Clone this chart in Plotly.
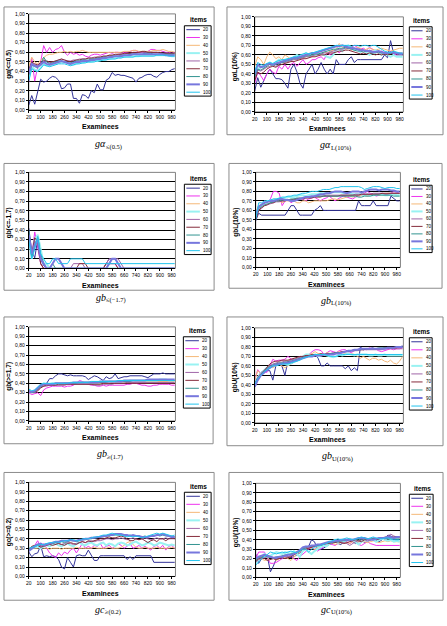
import plotly.graph_objects as go

W, H = 447, 626

# ---------------- data ----------------
examinees = list(range(20, 1001, 20))
item_counts = ["20", "30", "40", "50", "60", "70", "80", "90", "100"]
x_tick_vals = [20, 100, 180, 260, 340, 420, 500, 580, 660, 740, 820, 900, 980]
y_tick_vals = [0.0, 0.1, 0.2, 0.3, 0.4, 0.5, 0.6, 0.7, 0.8, 0.9, 1.0]
y_tick_text = ["0,00", "0,10", "0,20", "0,30", "0,40", "0,50", "0,60", "0,70", "0,80", "0,90", "1,00"]

# Panel 1: g alpha (<=0.5)
ga05_20 = [0.05,0.15,0.06,0.18,0.32,0.29,0.30,0.33,0.35,0.34, 0.31,0.22,0.23,0.27,0.27,0.12,0.12,0.07,0.16,0.15, 0.12,0.20,0.18,0.27,0.21,0.21,0.31,0.33,0.39,0.36, 0.37,0.36,0.36,0.35,0.34,0.33,0.29,0.33,0.34,0.36, 0.37,0.37,0.35,0.34,0.37,0.39,0.40,0.40,0.42,0.43]
ga05_30 = [0.29,0.54,0.30,0.45,0.50,0.67,0.60,0.65,0.60,0.63, 0.64,0.67,0.60,0.57,0.60,0.58,0.59,0.57,0.58,0.56, 0.55,0.57,0.58,0.58,0.57,0.58,0.59,0.60,0.59,0.60, 0.60,0.59,0.60,0.60,0.61,0.62,0.62,0.60,0.60,0.59, 0.61,0.63,0.63,0.62,0.62,0.61,0.60,0.60,0.59,0.60]
ga05_40 = [0.45,0.55,0.50,0.48,0.52,0.55,0.57,0.58,0.58,0.59, 0.60,0.60,0.61,0.60,0.61,0.60,0.61,0.61,0.62,0.61, 0.60,0.60,0.60,0.60,0.60,0.60,0.60,0.60,0.60,0.60, 0.60,0.60,0.61,0.61,0.61,0.62,0.62,0.61,0.61,0.61, 0.61,0.61,0.62,0.62,0.62,0.63,0.62,0.61,0.61,0.60]
ga05_50 = [0.33,0.45,0.42,0.41,0.44,0.48,0.46,0.46,0.47,0.48, 0.49,0.50,0.50,0.49,0.47,0.47,0.48,0.49,0.49,0.50, 0.50,0.50,0.51,0.51,0.52,0.52,0.53,0.53,0.54,0.54, 0.55,0.55,0.55,0.56,0.56,0.56,0.56,0.56,0.57,0.57, 0.57,0.57,0.57,0.57,0.57,0.57,0.57,0.57,0.56,0.56]
ga05_60 = [0.40,0.49,0.47,0.46,0.48,0.51,0.50,0.49,0.50,0.51, 0.52,0.53,0.52,0.51,0.51,0.52,0.52,0.53,0.53,0.53, 0.54,0.54,0.55,0.55,0.55,0.56,0.56,0.57,0.57,0.57, 0.58,0.58,0.58,0.59,0.59,0.59,0.59,0.60,0.60,0.60, 0.60,0.60,0.60,0.60,0.59,0.59,0.59,0.59,0.59,0.59]
ga05_70 = [0.42,0.50,0.48,0.47,0.49,0.52,0.51,0.50,0.50,0.51, 0.52,0.53,0.52,0.51,0.50,0.51,0.52,0.52,0.53,0.53, 0.54,0.54,0.54,0.55,0.55,0.56,0.56,0.57,0.57,0.58, 0.58,0.58,0.59,0.59,0.59,0.60,0.60,0.60,0.61,0.61, 0.60,0.60,0.60,0.60,0.60,0.59,0.59,0.59,0.59,0.59]
ga05_80 = [0.36,0.47,0.45,0.44,0.47,0.55,0.50,0.48,0.49,0.50, 0.51,0.51,0.50,0.49,0.49,0.50,0.51,0.51,0.52,0.52, 0.52,0.53,0.53,0.54,0.54,0.55,0.55,0.55,0.56,0.56, 0.56,0.57,0.57,0.57,0.58,0.58,0.58,0.58,0.58,0.59, 0.59,0.59,0.58,0.58,0.58,0.58,0.58,0.58,0.58,0.58]
ga05_90 = [0.38,0.48,0.46,0.45,0.47,0.50,0.48,0.47,0.48,0.49, 0.50,0.51,0.50,0.49,0.48,0.49,0.50,0.50,0.51,0.51, 0.51,0.52,0.52,0.53,0.53,0.54,0.54,0.55,0.55,0.56, 0.56,0.56,0.57,0.57,0.57,0.58,0.58,0.58,0.58,0.58, 0.58,0.58,0.58,0.58,0.58,0.58,0.57,0.57,0.57,0.57]
ga05_100 = [0.30,0.43,0.41,0.40,0.43,0.47,0.46,0.45,0.46,0.47, 0.48,0.48,0.48,0.47,0.46,0.47,0.48,0.48,0.49,0.49, 0.50,0.50,0.50,0.51,0.51,0.52,0.52,0.53,0.53,0.53, 0.54,0.54,0.55,0.55,0.55,0.55,0.56,0.56,0.56,0.56, 0.56,0.56,0.56,0.57,0.57,0.57,0.57,0.56,0.56,0.56]

# Panel 2: g alpha L(10%)
gaL_20 = [0.22,0.36,0.26,0.33,0.40,0.45,0.40,0.35,0.35,0.34, 0.30,0.25,0.45,0.50,0.42,0.30,0.25,0.40,0.45,0.50, 0.40,0.45,0.52,0.45,0.40,0.45,0.40,0.55,0.50,0.50, 0.50,0.55,0.58,0.52,0.55,0.55,0.55,0.55,0.55,0.55, 0.55,0.55,0.55,0.60,0.57,0.75,0.62,0.60,0.60,0.60]
gaL_30 = [0.30,0.42,0.38,0.33,0.40,0.45,0.42,0.40,0.48,0.45, 0.50,0.45,0.50,0.52,0.48,0.52,0.55,0.50,0.52,0.55, 0.55,0.57,0.58,0.55,0.62,0.60,0.62,0.65,0.62,0.66, 0.68,0.70,0.68,0.70,0.68,0.66,0.67,0.65,0.68,0.66, 0.64,0.62,0.64,0.62,0.60,0.63,0.61,0.60,0.62,0.61]
gaL_40 = [0.48,0.58,0.55,0.50,0.58,0.63,0.60,0.56,0.58,0.55, 0.60,0.58,0.55,0.58,0.57,0.56,0.57,0.58,0.60,0.58, 0.60,0.62,0.61,0.63,0.62,0.64,0.65,0.66,0.72,0.68, 0.66,0.67,0.65,0.66,0.68,0.67,0.65,0.66,0.67,0.66, 0.65,0.66,0.67,0.66,0.65,0.64,0.65,0.66,0.67,0.67]
gaL_50 = [0.38,0.45,0.48,0.47,0.50,0.52,0.50,0.52,0.55,0.53, 0.55,0.56,0.55,0.58,0.60,0.58,0.60,0.62,0.60,0.62, 0.60,0.62,0.61,0.60,0.58,0.57,0.60,0.65,0.66,0.64, 0.68,0.70,0.68,0.65,0.66,0.63,0.65,0.62,0.60,0.62, 0.65,0.63,0.60,0.62,0.60,0.58,0.60,0.58,0.58,0.58]
gaL_60 = [0.35,0.44,0.43,0.45,0.47,0.48,0.50,0.48,0.50,0.52, 0.52,0.53,0.54,0.55,0.55,0.56,0.57,0.58,0.58,0.59, 0.60,0.60,0.61,0.62,0.62,0.63,0.64,0.65,0.66,0.66, 0.67,0.67,0.68,0.67,0.66,0.66,0.65,0.64,0.65,0.64, 0.63,0.63,0.62,0.63,0.62,0.62,0.63,0.62,0.62,0.62]
gaL_70 = [0.33,0.42,0.40,0.42,0.45,0.47,0.48,0.47,0.49,0.50, 0.51,0.52,0.53,0.53,0.54,0.55,0.56,0.56,0.57,0.58, 0.58,0.59,0.60,0.60,0.61,0.62,0.62,0.63,0.64,0.64, 0.65,0.65,0.64,0.63,0.62,0.61,0.62,0.61,0.62,0.61, 0.60,0.61,0.60,0.61,0.60,0.61,0.62,0.61,0.61,0.60]
gaL_80 = [0.37,0.45,0.44,0.46,0.48,0.50,0.49,0.50,0.51,0.52, 0.53,0.54,0.55,0.56,0.56,0.57,0.58,0.59,0.59,0.60, 0.61,0.61,0.62,0.63,0.64,0.65,0.66,0.66,0.67,0.67, 0.68,0.67,0.66,0.65,0.64,0.64,0.63,0.64,0.63,0.62, 0.62,0.63,0.62,0.62,0.61,0.62,0.63,0.62,0.61,0.61]
gaL_90 = [0.40,0.50,0.47,0.48,0.50,0.51,0.50,0.51,0.52,0.53, 0.54,0.55,0.56,0.57,0.57,0.58,0.59,0.60,0.61,0.62, 0.62,0.63,0.64,0.65,0.66,0.67,0.68,0.69,0.69,0.70, 0.69,0.68,0.67,0.67,0.66,0.65,0.65,0.64,0.64,0.63, 0.63,0.64,0.63,0.62,0.62,0.63,0.62,0.62,0.61,0.61]
gaL_100 = [0.42,0.52,0.50,0.49,0.51,0.52,0.51,0.53,0.54,0.55, 0.55,0.56,0.57,0.58,0.58,0.60,0.61,0.62,0.61,0.62, 0.63,0.64,0.65,0.66,0.67,0.68,0.69,0.70,0.70,0.70, 0.70,0.70,0.69,0.70,0.70,0.69,0.70,0.70,0.69,0.70, 0.70,0.68,0.66,0.64,0.63,0.62,0.64,0.63,0.62,0.62]

# Panel 3: g b (<=-1.7)
gbS_20 = [0.42,0.18,0.11,0.30,0.10,0.03,0.00,0.00,0.00,0.00, 0.00,0.00,0.00,0.00,0.00,0.00,0.00,0.00,0.00,0.00, 0.00,0.00,0.00,0.00,0.00,0.00,0.05,0.10,0.10,0.10, 0.05,0.00,0.00,0.00,0.00,0.00,0.00,0.00,0.00,0.00, 0.00,0.00,0.00,0.00,0.00,0.00,0.00,0.00,0.00,0.00]
gbS_30 = [0.32,0.12,0.38,0.20,0.05,0.00,0.00,0.00,0.00,0.00, 0.00,0.00,0.00,0.00,0.00,0.00,0.00,0.00,0.00,0.00, 0.00,0.00,0.00,0.00,0.00,0.00,0.00,0.05,0.05,0.05, 0.00,0.00,0.00,0.00,0.00,0.00,0.00,0.00,0.00,0.00, 0.00,0.00,0.00,0.00,0.00,0.00,0.00,0.00,0.00,0.00]
gbS_40 = [0.30,0.15,0.25,0.32,0.05,0.00,0.00,0.00,0.00,0.00, 0.00,0.00,0.00,0.00,0.00,0.00,0.00,0.00,0.00,0.00, 0.00,0.00,0.00,0.00,0.00,0.00,0.00,0.00,0.00,0.00, 0.00,0.00,0.00,0.00,0.00,0.00,0.00,0.00,0.00,0.00, 0.00,0.00,0.00,0.00,0.00,0.00,0.00,0.00,0.00,0.00]
gbS_50 = [0.33,0.10,0.30,0.35,0.20,0.05,0.05,0.00,0.00,0.00, 0.00,0.00,0.00,0.00,0.00,0.00,0.00,0.00,0.00,0.00, 0.00,0.00,0.00,0.00,0.00,0.00,0.00,0.00,0.00,0.00, 0.00,0.00,0.00,0.00,0.00,0.00,0.00,0.00,0.00,0.00, 0.00,0.00,0.00,0.00,0.00,0.00,0.00,0.00,0.00,0.00]
gbS_60 = [0.38,0.12,0.28,0.25,0.05,0.00,0.00,0.00,0.00,0.00, 0.00,0.00,0.00,0.00,0.00,0.05,0.05,0.05,0.05,0.00, 0.00,0.00,0.00,0.00,0.00,0.00,0.05,0.10,0.10,0.10, 0.10,0.05,0.00,0.00,0.00,0.00,0.00,0.00,0.00,0.00, 0.00,0.00,0.00,0.00,0.00,0.00,0.00,0.00,0.00,0.00]
gbS_70 = [0.36,0.15,0.32,0.28,0.05,0.00,0.00,0.00,0.00,0.00, 0.00,0.00,0.00,0.00,0.00,0.00,0.00,0.05,0.05,0.05, 0.00,0.00,0.00,0.00,0.00,0.00,0.05,0.05,0.05,0.05, 0.00,0.00,0.00,0.00,0.00,0.00,0.00,0.00,0.00,0.00, 0.00,0.00,0.00,0.00,0.00,0.00,0.00,0.00,0.00,0.00]
gbS_80 = [0.40,0.12,0.22,0.33,0.15,0.05,0.00,0.00,0.05,0.00, 0.00,0.00,0.00,0.00,0.00,0.00,0.00,0.00,0.00,0.00, 0.00,0.00,0.00,0.00,0.00,0.00,0.00,0.00,0.00,0.00, 0.00,0.00,0.00,0.00,0.00,0.00,0.00,0.00,0.00,0.00, 0.00,0.00,0.00,0.00,0.00,0.00,0.00,0.00,0.00,0.00]
gbS_90 = [0.35,0.15,0.25,0.30,0.10,0.05,0.00,0.00,0.05,0.10, 0.10,0.05,0.00,0.00,0.00,0.00,0.00,0.00,0.00,0.00, 0.00,0.00,0.00,0.00,0.00,0.00,0.00,0.05,0.10,0.10, 0.05,0.00,0.00,0.00,0.00,0.00,0.00,0.00,0.00,0.00, 0.00,0.00,0.00,0.00,0.00,0.00,0.00,0.00,0.00,0.00]
gbS_100 = [0.30,0.10,0.20,0.33,0.15,0.10,0.05,0.05,0.10,0.10, 0.05,0.05,0.05,0.05,0.10,0.10,0.10,0.10,0.10,0.05, 0.05,0.05,0.05,0.05,0.05,0.05,0.05,0.05,0.05,0.05, 0.05,0.05,0.05,0.05,0.05,0.05,0.05,0.05,0.05,0.05, 0.05,0.05,0.05,0.05,0.05,0.05,0.05,0.05,0.05,0.05]

# Panel 4: g b L(10%)
gbL_20 = [0.49,0.57,0.55,0.55,0.55,0.55,0.55,0.55,0.55,0.55, 0.55,0.60,0.65,0.65,0.60,0.55,0.55,0.55,0.55,0.55, 0.60,0.62,0.65,0.60,0.60,0.60,0.60,0.60,0.60,0.60, 0.60,0.60,0.60,0.60,0.60,0.70,0.65,0.65,0.65,0.65, 0.70,0.65,0.65,0.65,0.65,0.65,0.75,0.72,0.70,0.70]
gbL_30 = [0.55,0.63,0.66,0.70,0.68,0.72,0.80,0.80,0.78,0.65, 0.70,0.72,0.68,0.70,0.72,0.73,0.72,0.70,0.72,0.73, 0.74,0.72,0.70,0.72,0.73,0.75,0.72,0.70,0.72,0.74, 0.75,0.74,0.73,0.72,0.74,0.75,0.76,0.78,0.80,0.78, 0.77,0.75,0.76,0.78,0.77,0.76,0.78,0.80,0.79,0.78]
gbL_40 = [0.58,0.65,0.66,0.68,0.70,0.70,0.72,0.72,0.70,0.68, 0.70,0.70,0.70,0.70,0.68,0.68,0.70,0.70,0.68,0.69, 0.70,0.70,0.70,0.70,0.70,0.71,0.72,0.72,0.71,0.72, 0.73,0.74,0.75,0.74,0.75,0.75,0.76,0.76,0.75,0.76, 0.76,0.77,0.76,0.77,0.77,0.78,0.78,0.78,0.78,0.78]
gbL_50 = [0.55,0.62,0.66,0.68,0.70,0.70,0.71,0.72,0.72,0.73, 0.73,0.74,0.74,0.74,0.75,0.76,0.76,0.75,0.76,0.77, 0.77,0.77,0.78,0.78,0.78,0.78,0.79,0.79,0.79,0.79, 0.78,0.78,0.78,0.77,0.77,0.77,0.77,0.76,0.77,0.76, 0.76,0.77,0.77,0.77,0.76,0.76,0.77,0.77,0.76,0.76]
gbL_60 = [0.52,0.60,0.62,0.65,0.66,0.67,0.68,0.69,0.69,0.70, 0.70,0.71,0.71,0.72,0.72,0.72,0.73,0.73,0.74,0.74, 0.74,0.75,0.75,0.75,0.76,0.76,0.76,0.76,0.76,0.76, 0.76,0.76,0.76,0.76,0.77,0.77,0.77,0.77,0.77,0.77, 0.78,0.78,0.78,0.78,0.77,0.77,0.78,0.78,0.78,0.78]
gbL_70 = [0.50,0.60,0.63,0.65,0.66,0.68,0.68,0.70,0.70,0.70, 0.70,0.71,0.71,0.71,0.72,0.72,0.72,0.73,0.73,0.73, 0.74,0.74,0.74,0.75,0.75,0.75,0.75,0.75,0.75,0.76, 0.76,0.76,0.76,0.76,0.76,0.76,0.77,0.77,0.77,0.77, 0.77,0.77,0.77,0.78,0.78,0.78,0.78,0.78,0.78,0.78]
gbL_80 = [0.53,0.62,0.64,0.66,0.67,0.68,0.69,0.70,0.70,0.71, 0.71,0.71,0.72,0.72,0.73,0.73,0.73,0.74,0.74,0.74, 0.75,0.75,0.75,0.75,0.75,0.75,0.75,0.75,0.75,0.75, 0.75,0.75,0.75,0.75,0.75,0.74,0.74,0.75,0.75,0.75, 0.76,0.76,0.76,0.76,0.76,0.76,0.76,0.75,0.75,0.75]
gbL_90 = [0.55,0.64,0.66,0.68,0.69,0.70,0.70,0.71,0.72,0.72, 0.71,0.71,0.70,0.70,0.71,0.72,0.73,0.74,0.74,0.75, 0.75,0.76,0.77,0.77,0.78,0.78,0.79,0.80,0.80,0.80, 0.79,0.78,0.79,0.80,0.80,0.80,0.79,0.80,0.81,0.82, 0.82,0.82,0.81,0.82,0.82,0.82,0.81,0.81,0.80,0.80]
gbL_100 = [0.50,0.68,0.68,0.70,0.70,0.71,0.72,0.72,0.73,0.74, 0.74,0.75,0.75,0.76,0.76,0.77,0.78,0.78,0.79,0.80, 0.80,0.80,0.81,0.82,0.82,0.82,0.83,0.84,0.84,0.85, 0.85,0.85,0.85,0.85,0.85,0.85,0.84,0.82,0.83,0.84, 0.85,0.85,0.85,0.84,0.83,0.84,0.84,0.84,0.83,0.83]

# Panel 5: g b (>=1.7)
gbG_20 = [0.33,0.31,0.32,0.35,0.37,0.37,0.40,0.45,0.45,0.48, 0.50,0.50,0.49,0.48,0.49,0.48,0.48,0.48,0.48,0.47, 0.44,0.46,0.48,0.47,0.45,0.43,0.47,0.45,0.46,0.50, 0.45,0.46,0.47,0.47,0.48,0.48,0.48,0.48,0.48,0.47, 0.46,0.48,0.50,0.50,0.50,0.51,0.50,0.50,0.50,0.50]
gbG_30 = [0.30,0.28,0.29,0.30,0.27,0.33,0.35,0.36,0.37,0.37, 0.37,0.37,0.36,0.37,0.37,0.38,0.40,0.43,0.42,0.40, 0.39,0.38,0.38,0.37,0.37,0.38,0.37,0.38,0.38,0.38, 0.38,0.38,0.38,0.39,0.39,0.40,0.40,0.39,0.38,0.38, 0.37,0.37,0.38,0.38,0.39,0.39,0.39,0.39,0.38,0.38]
gbG_40 = [0.31,0.30,0.31,0.33,0.36,0.38,0.38,0.39,0.39,0.39, 0.38,0.38,0.38,0.39,0.39,0.39,0.40,0.40,0.40,0.40, 0.40,0.40,0.40,0.40,0.40,0.40,0.40,0.40,0.41,0.41, 0.41,0.41,0.41,0.41,0.41,0.41,0.42,0.42,0.42,0.42, 0.42,0.42,0.42,0.42,0.42,0.42,0.42,0.42,0.42,0.42]
gbG_50 = [0.33,0.31,0.31,0.34,0.38,0.40,0.39,0.39,0.40,0.39, 0.39,0.39,0.40,0.40,0.40,0.40,0.40,0.41,0.41,0.41, 0.41,0.41,0.41,0.41,0.41,0.42,0.42,0.42,0.42,0.42, 0.42,0.42,0.42,0.42,0.43,0.43,0.43,0.43,0.43,0.43, 0.43,0.43,0.43,0.43,0.44,0.44,0.44,0.43,0.43,0.43]
gbG_60 = [0.32,0.30,0.30,0.33,0.36,0.37,0.37,0.38,0.38,0.38, 0.38,0.38,0.38,0.39,0.39,0.39,0.39,0.39,0.39,0.39, 0.39,0.39,0.38,0.38,0.38,0.39,0.39,0.39,0.39,0.40, 0.40,0.40,0.40,0.41,0.41,0.41,0.41,0.41,0.41,0.41, 0.41,0.41,0.41,0.41,0.41,0.41,0.41,0.41,0.41,0.41]
gbG_70 = [0.32,0.31,0.31,0.32,0.35,0.37,0.38,0.38,0.38,0.38, 0.39,0.39,0.39,0.39,0.39,0.39,0.39,0.39,0.39,0.39, 0.39,0.39,0.39,0.39,0.39,0.40,0.40,0.40,0.40,0.40, 0.40,0.40,0.40,0.40,0.40,0.40,0.40,0.40,0.40,0.40, 0.40,0.40,0.40,0.40,0.40,0.40,0.40,0.40,0.40,0.40]
gbG_80 = [0.31,0.30,0.31,0.34,0.37,0.39,0.39,0.39,0.39,0.40, 0.40,0.40,0.40,0.40,0.40,0.40,0.40,0.41,0.41,0.41, 0.41,0.41,0.41,0.41,0.41,0.41,0.41,0.42,0.42,0.42, 0.42,0.42,0.42,0.42,0.42,0.43,0.43,0.43,0.43,0.43, 0.43,0.43,0.43,0.43,0.43,0.43,0.43,0.43,0.43,0.43]
gbG_90 = [0.31,0.31,0.32,0.35,0.38,0.39,0.39,0.39,0.39,0.40, 0.40,0.40,0.40,0.40,0.40,0.41,0.41,0.41,0.41,0.41, 0.41,0.41,0.41,0.41,0.42,0.42,0.42,0.42,0.42,0.42, 0.42,0.42,0.43,0.43,0.43,0.43,0.43,0.43,0.43,0.43, 0.44,0.44,0.44,0.44,0.44,0.44,0.44,0.44,0.44,0.44]
gbG_100 = [0.34,0.32,0.33,0.36,0.39,0.40,0.40,0.40,0.40,0.40, 0.40,0.40,0.40,0.40,0.41,0.41,0.41,0.41,0.41,0.41, 0.41,0.42,0.42,0.42,0.42,0.42,0.42,0.42,0.42,0.42, 0.43,0.43,0.43,0.43,0.43,0.43,0.43,0.43,0.43,0.43, 0.43,0.43,0.43,0.43,0.43,0.43,0.43,0.43,0.43,0.43]

# Panel 6: g b U(10%)
gbU_20 = [0.39,0.48,0.53,0.55,0.55,0.55,0.45,0.60,0.62,0.60, 0.50,0.65,0.62,0.64,0.65,0.68,0.70,0.70,0.70,0.70, 0.72,0.68,0.60,0.60,0.63,0.60,0.60,0.60,0.60,0.60, 0.57,0.60,0.55,0.58,0.55,0.80,0.77,0.78,0.78,0.79, 0.78,0.78,0.78,0.78,0.78,0.79,0.79,0.79,0.80,0.81]
gbU_30 = [0.45,0.56,0.52,0.55,0.53,0.60,0.67,0.65,0.66,0.66, 0.67,0.70,0.67,0.65,0.66,0.68,0.70,0.70,0.72,0.75, 0.77,0.77,0.76,0.72,0.74,0.76,0.75,0.74,0.76,0.77, 0.77,0.75,0.74,0.76,0.77,0.78,0.78,0.77,0.79,0.78, 0.78,0.76,0.75,0.76,0.77,0.78,0.77,0.78,0.78,0.79]
gbU_40 = [0.45,0.55,0.52,0.55,0.58,0.60,0.58,0.60,0.62,0.60, 0.58,0.60,0.62,0.65,0.66,0.68,0.70,0.70,0.72,0.73, 0.75,0.73,0.72,0.72,0.74,0.73,0.72,0.74,0.75,0.74, 0.73,0.72,0.73,0.72,0.70,0.68,0.70,0.68,0.66,0.68, 0.68,0.66,0.67,0.65,0.64,0.66,0.63,0.62,0.65,0.70]
gbU_50 = [0.40,0.48,0.52,0.55,0.58,0.58,0.60,0.62,0.62,0.63, 0.62,0.61,0.63,0.64,0.66,0.68,0.70,0.72,0.72,0.71, 0.72,0.70,0.71,0.72,0.71,0.70,0.69,0.70,0.72,0.71, 0.72,0.73,0.72,0.71,0.72,0.72,0.72,0.72,0.71,0.71, 0.72,0.71,0.71,0.72,0.71,0.71,0.71,0.71,0.71,0.71]
gbU_60 = [0.42,0.48,0.52,0.55,0.57,0.60,0.62,0.63,0.64,0.64, 0.65,0.65,0.66,0.67,0.68,0.69,0.70,0.70,0.71,0.71, 0.72,0.72,0.72,0.72,0.73,0.73,0.74,0.74,0.74,0.75, 0.75,0.75,0.76,0.76,0.76,0.77,0.77,0.77,0.77,0.77, 0.77,0.77,0.77,0.78,0.78,0.78,0.78,0.78,0.78,0.78]
gbU_70 = [0.40,0.47,0.51,0.55,0.58,0.62,0.64,0.65,0.65,0.66, 0.66,0.66,0.67,0.68,0.69,0.70,0.70,0.71,0.71,0.72, 0.72,0.72,0.73,0.72,0.73,0.73,0.73,0.74,0.74,0.75, 0.75,0.76,0.76,0.77,0.77,0.77,0.77,0.78,0.78,0.78, 0.78,0.78,0.78,0.79,0.79,0.79,0.79,0.79,0.80,0.80]
gbU_80 = [0.38,0.46,0.50,0.54,0.57,0.60,0.61,0.62,0.63,0.63, 0.64,0.64,0.65,0.66,0.67,0.68,0.69,0.70,0.70,0.71, 0.71,0.71,0.72,0.72,0.72,0.73,0.73,0.74,0.74,0.74, 0.75,0.75,0.76,0.76,0.77,0.77,0.78,0.78,0.78,0.78, 0.78,0.79,0.79,0.79,0.79,0.79,0.79,0.80,0.80,0.80]
gbU_90 = [0.38,0.45,0.50,0.53,0.56,0.58,0.60,0.61,0.62,0.62, 0.63,0.63,0.64,0.65,0.66,0.67,0.68,0.69,0.70,0.70, 0.71,0.71,0.71,0.72,0.72,0.72,0.72,0.73,0.73,0.74, 0.75,0.76,0.76,0.77,0.77,0.78,0.78,0.78,0.78,0.78, 0.78,0.78,0.78,0.78,0.79,0.79,0.79,0.80,0.80,0.80]
gbU_100 = [0.41,0.47,0.50,0.54,0.56,0.58,0.60,0.60,0.61,0.62, 0.62,0.62,0.63,0.64,0.65,0.66,0.68,0.69,0.70,0.71, 0.72,0.72,0.72,0.72,0.71,0.70,0.70,0.70,0.71,0.72, 0.72,0.72,0.72,0.72,0.72,0.72,0.72,0.72,0.72,0.72, 0.72,0.72,0.72,0.72,0.72,0.72,0.72,0.72,0.72,0.72]

# Panel 7: g c (>=0.2)
gcG_20 = [0.26,0.21,0.24,0.25,0.33,0.21,0.22,0.21,0.22,0.21, 0.18,0.10,0.08,0.20,0.15,0.10,0.22,0.23,0.22,0.22, 0.28,0.22,0.17,0.17,0.22,0.22,0.22,0.22,0.22,0.22, 0.22,0.22,0.22,0.18,0.21,0.18,0.22,0.22,0.22,0.22, 0.22,0.22,0.15,0.15,0.15,0.15,0.15,0.15,0.15,0.15]
gcG_30 = [0.28,0.30,0.33,0.38,0.30,0.35,0.30,0.25,0.22,0.20, 0.25,0.22,0.26,0.24,0.28,0.30,0.25,0.30,0.35,0.30, 0.32,0.30,0.33,0.32,0.35,0.30,0.32,0.33,0.30,0.32, 0.35,0.33,0.30,0.32,0.35,0.30,0.31,0.33,0.30,0.32, 0.30,0.28,0.32,0.33,0.30,0.33,0.28,0.32,0.33,0.30]
gcG_40 = [0.30,0.31,0.30,0.30,0.31,0.30,0.30,0.29,0.30,0.30, 0.30,0.29,0.30,0.30,0.30,0.30,0.31,0.30,0.30,0.30, 0.30,0.30,0.31,0.30,0.30,0.30,0.30,0.31,0.30,0.30, 0.30,0.31,0.33,0.36,0.37,0.34,0.31,0.30,0.30,0.31, 0.30,0.30,0.30,0.31,0.30,0.30,0.30,0.30,0.31,0.30]
gcG_50 = [0.28,0.30,0.31,0.32,0.30,0.32,0.33,0.32,0.34,0.35, 0.33,0.32,0.34,0.35,0.33,0.32,0.35,0.36,0.34,0.33, 0.35,0.36,0.34,0.33,0.35,0.36,0.33,0.35,0.34,0.32, 0.35,0.36,0.35,0.33,0.34,0.36,0.37,0.35,0.33,0.34, 0.36,0.35,0.33,0.34,0.36,0.35,0.34,0.33,0.34,0.33]
gcG_60 = [0.29,0.31,0.33,0.34,0.33,0.34,0.35,0.34,0.35,0.36, 0.35,0.34,0.35,0.36,0.35,0.34,0.35,0.36,0.37,0.36, 0.37,0.38,0.37,0.38,0.38,0.39,0.40,0.40,0.39,0.40, 0.40,0.41,0.40,0.39,0.40,0.41,0.40,0.39,0.40,0.41, 0.40,0.39,0.40,0.41,0.40,0.40,0.41,0.40,0.40,0.40]
gcG_70 = [0.29,0.32,0.33,0.33,0.31,0.32,0.33,0.34,0.33,0.34, 0.35,0.34,0.33,0.35,0.36,0.35,0.34,0.36,0.37,0.36, 0.38,0.37,0.38,0.39,0.40,0.40,0.41,0.42,0.41,0.41, 0.42,0.43,0.42,0.40,0.38,0.38,0.40,0.39,0.40,0.38, 0.36,0.38,0.39,0.37,0.40,0.40,0.38,0.40,0.41,0.40]
gcG_80 = [0.28,0.30,0.32,0.33,0.34,0.33,0.34,0.35,0.35,0.36, 0.36,0.37,0.36,0.37,0.38,0.38,0.37,0.38,0.39,0.39, 0.40,0.40,0.41,0.41,0.42,0.42,0.43,0.43,0.44,0.44, 0.44,0.44,0.43,0.43,0.44,0.43,0.43,0.43,0.42,0.43, 0.42,0.43,0.43,0.44,0.43,0.44,0.43,0.43,0.43,0.42]
gcG_90 = [0.27,0.30,0.32,0.34,0.35,0.33,0.34,0.35,0.36,0.37, 0.37,0.38,0.38,0.38,0.39,0.38,0.38,0.39,0.39,0.40, 0.40,0.41,0.41,0.42,0.42,0.43,0.43,0.44,0.44,0.45, 0.45,0.45,0.44,0.44,0.43,0.44,0.43,0.43,0.42,0.42, 0.42,0.43,0.43,0.44,0.44,0.45,0.44,0.43,0.42,0.42]
gcG_100 = [0.30,0.31,0.32,0.33,0.34,0.34,0.35,0.36,0.36,0.37, 0.36,0.37,0.38,0.38,0.39,0.39,0.38,0.38,0.40,0.40, 0.40,0.41,0.42,0.42,0.43,0.44,0.44,0.45,0.46,0.45, 0.44,0.44,0.43,0.42,0.43,0.42,0.43,0.42,0.41,0.42, 0.43,0.44,0.45,0.46,0.45,0.46,0.45,0.44,0.43,0.44]

# Panel 8: g c U(10%)
gcU_20 = [0.25,0.15,0.20,0.25,0.22,0.06,0.12,0.20,0.22,0.20, 0.21,0.22,0.21,0.22,0.24,0.26,0.30,0.31,0.33,0.40, 0.38,0.30,0.30,0.31,0.33,0.35,0.36,0.38,0.36,0.35, 0.38,0.40,0.40,0.38,0.36,0.38,0.40,0.37,0.38,0.40, 0.42,0.40,0.38,0.40,0.42,0.45,0.44,0.42,0.43,0.43]
gcU_30 = [0.20,0.27,0.27,0.27,0.20,0.15,0.15,0.16,0.18,0.20, 0.22,0.25,0.23,0.20,0.18,0.22,0.25,0.28,0.30,0.32, 0.30,0.28,0.30,0.32,0.35,0.36,0.35,0.34,0.36,0.38, 0.40,0.38,0.36,0.38,0.39,0.35,0.34,0.36,0.38,0.36, 0.35,0.34,0.34,0.34,0.34,0.34,0.34,0.34,0.34,0.34]
gcU_40 = [0.18,0.22,0.20,0.18,0.19,0.22,0.20,0.18,0.20,0.22, 0.21,0.20,0.18,0.22,0.25,0.27,0.30,0.30,0.32,0.31, 0.30,0.32,0.33,0.35,0.34,0.36,0.37,0.35,0.36,0.37, 0.38,0.37,0.36,0.38,0.37,0.38,0.39,0.38,0.37,0.38, 0.39,0.38,0.37,0.38,0.39,0.38,0.39,0.38,0.38,0.38]
gcU_50 = [0.15,0.20,0.22,0.25,0.22,0.23,0.25,0.27,0.26,0.25, 0.27,0.26,0.25,0.28,0.25,0.22,0.28,0.30,0.27,0.25, 0.28,0.30,0.32,0.34,0.33,0.36,0.38,0.40,0.37,0.39, 0.38,0.40,0.41,0.40,0.37,0.35,0.38,0.40,0.39,0.41, 0.40,0.38,0.40,0.41,0.40,0.39,0.40,0.38,0.39,0.38]
gcU_60 = [0.16,0.19,0.20,0.21,0.22,0.22,0.21,0.20,0.21,0.22, 0.23,0.22,0.23,0.24,0.26,0.28,0.30,0.31,0.32,0.33, 0.33,0.34,0.35,0.35,0.36,0.37,0.37,0.38,0.38,0.38, 0.37,0.36,0.34,0.36,0.38,0.39,0.40,0.40,0.39,0.40, 0.41,0.40,0.41,0.42,0.43,0.44,0.46,0.44,0.43,0.42]
gcU_70 = [0.17,0.20,0.21,0.20,0.18,0.19,0.20,0.19,0.20,0.21, 0.20,0.21,0.22,0.24,0.26,0.28,0.30,0.30,0.31,0.32, 0.33,0.34,0.34,0.35,0.36,0.36,0.37,0.37,0.38,0.37, 0.36,0.37,0.38,0.39,0.40,0.39,0.38,0.40,0.41,0.40, 0.41,0.40,0.41,0.42,0.41,0.42,0.43,0.43,0.43,0.43]
gcU_80 = [0.18,0.21,0.22,0.23,0.22,0.21,0.21,0.22,0.22,0.23, 0.24,0.24,0.25,0.26,0.27,0.29,0.31,0.32,0.33,0.33, 0.34,0.34,0.35,0.36,0.36,0.37,0.37,0.38,0.38,0.39, 0.39,0.39,0.40,0.40,0.40,0.40,0.41,0.41,0.41,0.41, 0.41,0.41,0.42,0.42,0.42,0.41,0.41,0.41,0.41,0.41]
gcU_90 = [0.20,0.22,0.23,0.24,0.23,0.22,0.21,0.21,0.22,0.22, 0.23,0.24,0.24,0.25,0.27,0.29,0.32,0.33,0.33,0.34, 0.34,0.35,0.35,0.36,0.37,0.38,0.38,0.39,0.39,0.40, 0.40,0.40,0.40,0.40,0.41,0.42,0.42,0.42,0.41,0.40, 0.40,0.41,0.42,0.42,0.42,0.43,0.43,0.42,0.43,0.43]
gcU_100 = [0.13,0.17,0.20,0.22,0.25,0.27,0.26,0.25,0.26,0.27, 0.26,0.27,0.28,0.27,0.26,0.28,0.30,0.30,0.27,0.30, 0.32,0.33,0.34,0.35,0.36,0.38,0.39,0.40,0.41,0.40, 0.41,0.42,0.41,0.40,0.41,0.42,0.43,0.42,0.41,0.42, 0.43,0.42,0.41,0.41,0.42,0.42,0.41,0.40,0.40,0.40]

# ---------------- styling ----------------
series_colors = ["#333399", "#ee33ee", "#f5b878", "#99f2f2", "#a066a8", "#862c3c", "#339490", "#7777dd", "#22c4ee"]
series_widths = [1, 1, 1, 2, 1, 1, 1, 2, 1]
SANS = "Liberation Sans, Arial, sans-serif"
SERIF = "Liberation Serif, Times New Roman, serif"

panels = [
    dict(data=[ga05_20, ga05_30, ga05_40, ga05_50, ga05_60, ga05_70, ga05_80, ga05_90, ga05_100],
         plot=(26, 11, 174, 108), box=(1, 4, 213, 133), leg=(183, 23, 210, 94),
         ytitle="gα(<=0.5)", cap_main="gα", cap_sub="≤(0.5)", cap_x=104, cap_y=142),
    dict(data=[gaL_20, gaL_30, gaL_40, gaL_50, gaL_60, gaL_70, gaL_80, gaL_90, gaL_100],
         plot=(254, 14, 404, 110), box=(226, 4, 444, 133), leg=(410, 24, 433, 97),
         ytitle="gαL(10%)", cap_main="gα", cap_sub="L(10%)", cap_x=331, cap_y=143),
    dict(data=[gbS_20, gbS_30, gbS_40, gbS_50, gbS_60, gbS_70, gbS_80, gbS_90, gbS_100],
         plot=(26, 171, 174, 268), box=(1, 162, 213, 290), leg=(183, 183, 210, 254),
         ytitle="gb(<=-1.7)", cap_main="gb", cap_sub="≤(−1.7)", cap_x=104, cap_y=297),
    dict(data=[gbL_20, gbL_30, gbL_40, gbL_50, gbL_60, gbL_70, gbL_80, gbL_90, gbL_100],
         plot=(255, 171, 401, 267), box=(228, 162, 443, 288), leg=(410, 184, 433, 252),
         ytitle="gbL(10%)", cap_main="gb", cap_sub="L(10%)", cap_x=331, cap_y=300),
    dict(data=[gbG_20, gbG_30, gbG_40, gbG_50, gbG_60, gbG_70, gbG_80, gbG_90, gbG_100],
         plot=(26, 327, 174, 422), box=(1, 317, 212, 445), leg=(182, 337, 209, 409),
         ytitle="gb(>=1.7)", cap_main="gb", cap_sub="≥(1.7)", cap_x=105, cap_y=455),
    dict(data=[gbU_20, gbU_30, gbU_40, gbU_50, gbU_60, gbU_70, gbU_80, gbU_90, gbU_100],
         plot=(254, 328, 404, 424), box=(226, 317, 444, 447), leg=(410, 338, 433, 411),
         ytitle="gbU(10%)", cap_main="gb", cap_sub="U(10%)", cap_x=332, cap_y=457),
    dict(data=[gcG_20, gcG_30, gcG_40, gcG_50, gcG_60, gcG_70, gcG_80, gcG_90, gcG_100],
         plot=(26, 484, 174, 579), box=(1, 474, 213, 603), leg=(183, 494, 210, 567),
         ytitle="gc(>=0.2)", cap_main="gc", cap_sub="≥(0.2)", cap_x=103, cap_y=612),
    dict(data=[gcU_20, gcU_30, gcU_40, gcU_50, gcU_60, gcU_70, gcU_80, gcU_90, gcU_100],
         plot=(255, 485, 401, 580), box=(228, 474, 444, 603), leg=(410, 496, 434, 569),
         ytitle="gcU(10%)", cap_main="gc", cap_sub="U(10%)", cap_x=331, cap_y=612),
]


def px(x):
    return x / W


def py(y):
    return 1 - y / H


fig = go.Figure()
shapes = []
annotations = []
layout_axes = {}

for n, p in enumerate(panels, start=1):
    sfx = "" if n == 1 else str(n)
    xa, ya = "x" + sfx, "y" + sfx
    l, t, r, b = p["plot"]

    for k, vals in enumerate(p["data"]):
        assert len(vals) == len(examinees)
        fig.add_trace(go.Scatter(
            x=examinees, y=vals, mode="lines", xaxis=xa, yaxis=ya,
            line=dict(color=series_colors[k], width=series_widths[k]),
            showlegend=False, hoverinfo="skip"))

    layout_axes["xaxis" + sfx] = dict(
        domain=[px(l), px(r)], anchor=ya, range=[20, 1005],
        tickmode="array", tickvals=x_tick_vals, ticktext=[str(v) for v in x_tick_vals],
        tickfont=dict(family=SANS, size=5, color="black"),
        ticks="outside", ticklen=2, tickcolor="black",
        showline=True, linecolor="black", linewidth=1, showgrid=False, zeroline=False,
        fixedrange=True)
    layout_axes["yaxis" + sfx] = dict(
        domain=[py(b), py(t)], anchor=xa, range=[0, 1],
        tickmode="array", tickvals=y_tick_vals, ticktext=y_tick_text,
        tickfont=dict(family=SANS, size=5, color="black"),
        ticks="outside", ticklen=2, tickcolor="black",
        showline=True, linecolor="black", linewidth=1,
        showgrid=True, gridcolor="#000000", gridwidth=1, zeroline=False,
        fixedrange=True)

    # outer chart border
    bx0, by0, bx1, by1 = p["box"]
    shapes.append(dict(type="rect", xref="paper", yref="paper",
                       x0=px(bx0), x1=px(bx1), y0=py(by1), y1=py(by0),
                       line=dict(color="#8c8c8c", width=1), layer="below"))
    # plot-area border
    shapes.append(dict(type="rect", xref="paper", yref="paper",
                       x0=px(l), x1=px(r), y0=py(b), y1=py(t),
                       line=dict(color="#808080", width=1), layer="below"))

    # legend box
    lx0, ly0, lx1, ly1 = p["leg"]
    shapes.append(dict(type="rect", xref="paper", yref="paper",
                       x0=px(lx0), x1=px(lx1), y0=py(ly1), y1=py(ly0),
                       line=dict(color="#000000", width=1), fillcolor="white"))
    step = (ly1 - ly0) / 9.0
    lw = lx1 - lx0
    for k, name in enumerate(item_counts):
        yy = ly0 + step * (k + 0.5)
        shapes.append(dict(type="line", xref="paper", yref="paper",
                           x0=px(lx0 + 2), x1=px(lx0 + lw * 0.58), y0=py(yy), y1=py(yy),
                           line=dict(color=series_colors[k], width=series_widths[k])))
        annotations.append(dict(xref="paper", yref="paper", x=px(lx0 + lw * 0.63), y=py(yy),
                                text=name, showarrow=False, xanchor="left", yanchor="middle",
                                font=dict(family=SANS, size=4.5, color="black")))
    annotations.append(dict(xref="paper", yref="paper", x=px((lx0 + lx1) / 2 + 1), y=py(ly0 - 6),
                            text="items", showarrow=False, xanchor="center", yanchor="middle",
                            font=dict(family=SANS, size=6.5, color="black", weight="bold")))

    # axis titles
    annotations.append(dict(xref="paper", yref="paper", x=px(l - 20), y=py((t + b) / 2 + 2),
                            text=p["ytitle"], textangle=-90, showarrow=False,
                            xanchor="center", yanchor="middle",
                            font=dict(family=SANS, size=6.5, color="black", weight="bold")))
    annotations.append(dict(xref="paper", yref="paper", x=px((l + r) / 2 - 2), y=py(b + 17),
                            text="Examinees", showarrow=False,
                            xanchor="center", yanchor="middle",
                            font=dict(family=SANS, size=7, color="black", weight="bold")))
    # caption: italic symbol plus lowered small subscript
    annotations.append(dict(xref="paper", yref="paper", x=px(p["cap_x"]), y=py(p["cap_y"]),
                            text=p["cap_main"], showarrow=False, xanchor="right", yanchor="middle",
                            borderpad=0, borderwidth=0,
                            font=dict(family=SERIF, size=10, color="black", style="italic")))
    annotations.append(dict(xref="paper", yref="paper", x=px(p["cap_x"] - 0.5), y=py(p["cap_y"] + 3),
                            text=p["cap_sub"], showarrow=False, xanchor="left", yanchor="middle",
                            borderpad=0, borderwidth=0,
                            font=dict(family=SERIF, size=6.5, color="black")))

fig.update_layout(
    width=W, height=H, margin=dict(l=0, r=0, t=0, b=0),
    paper_bgcolor="white", plot_bgcolor="white",
    showlegend=False, shapes=shapes, annotations=annotations,
    **layout_axes)

fig.write_html("out.html")
